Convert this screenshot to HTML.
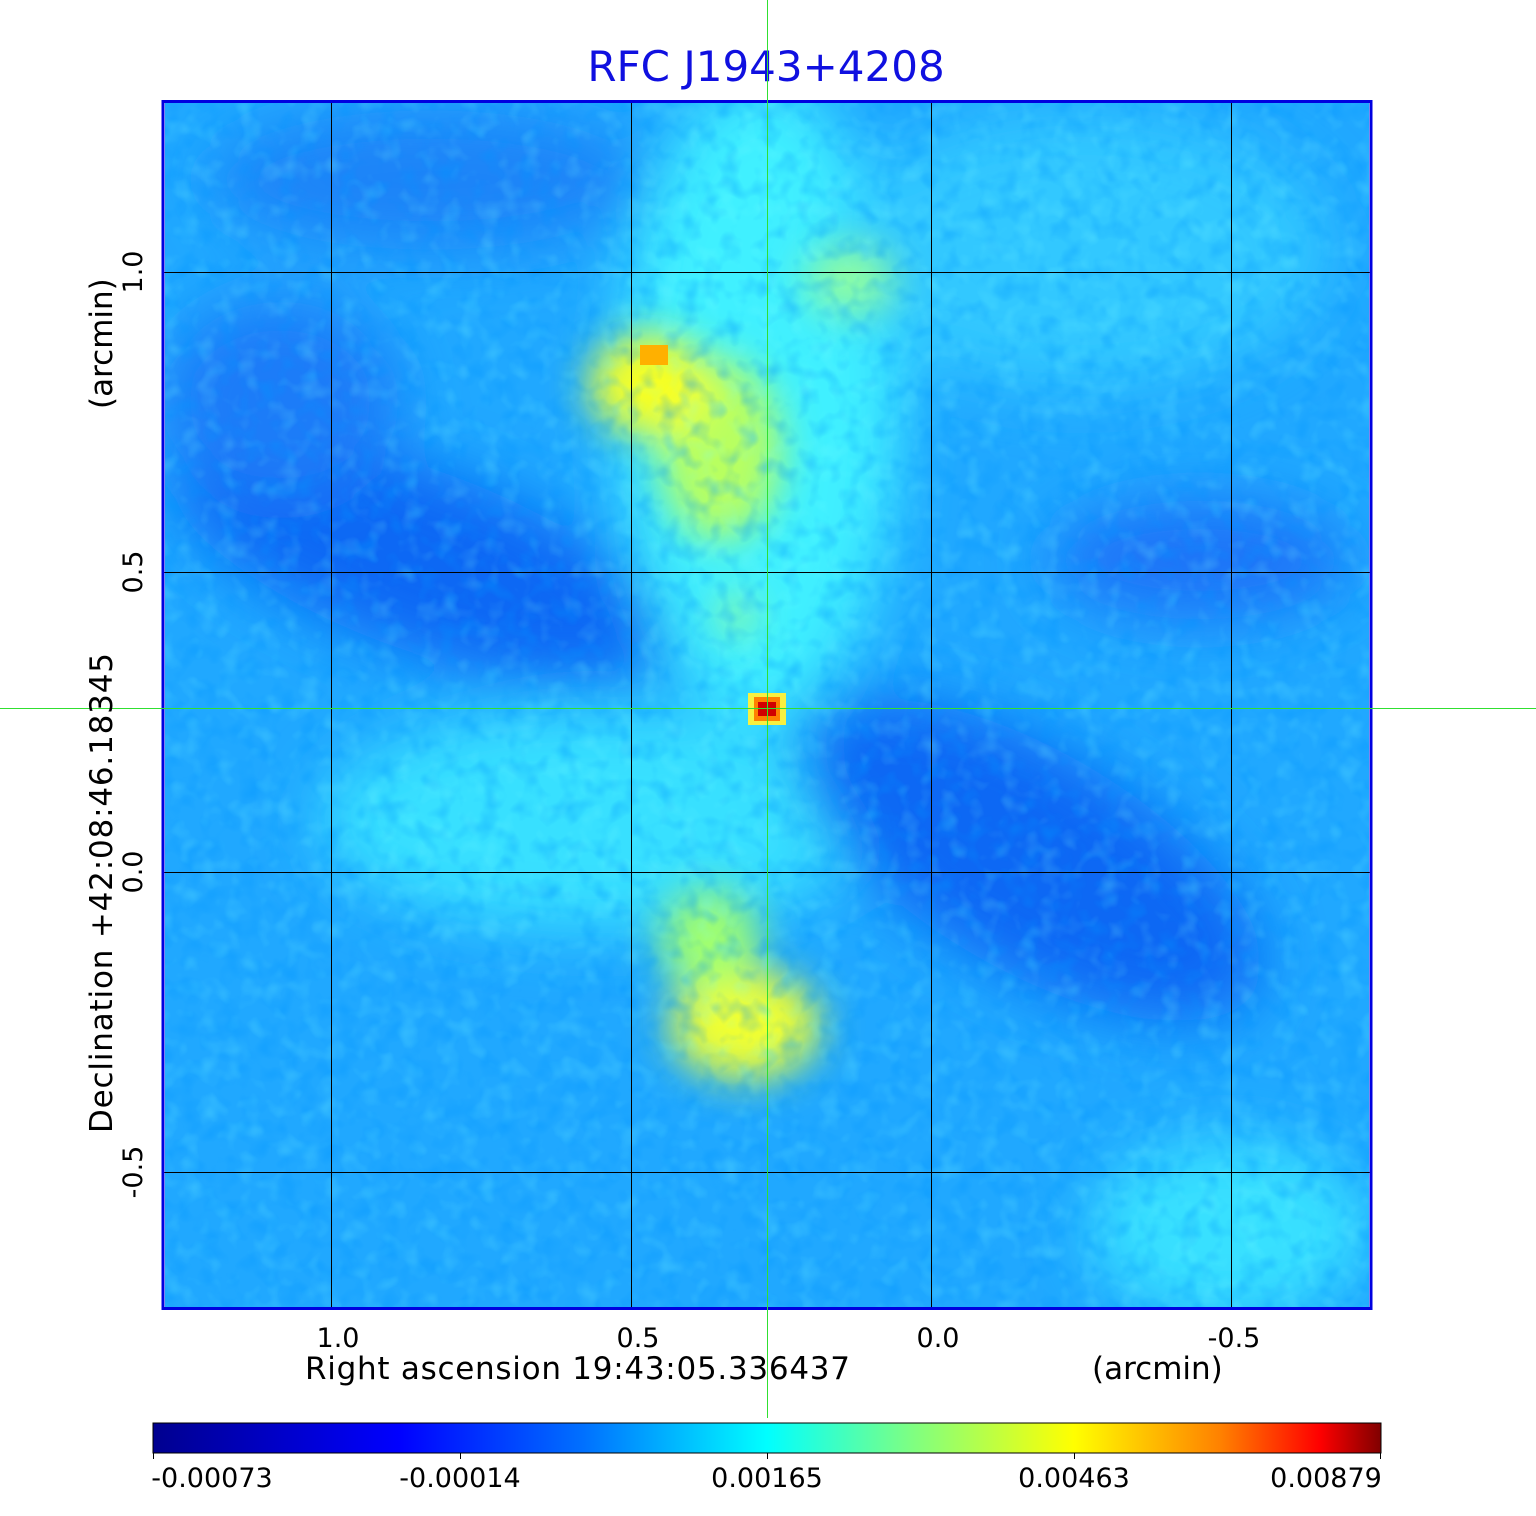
<!DOCTYPE html>
<html><head><style>
body{margin:0;background:#fff;}
svg text{font-family:"DejaVu Sans","Liberation Sans",sans-serif;}
</style></head><body>
<svg width="1536" height="1511" xmlns="http://www.w3.org/2000/svg">
<defs>
<filter id="b" x="-50%" y="-50%" width="200%" height="200%"><feGaussianBlur stdDeviation="30"/></filter>
<filter id="b2" x="-50%" y="-50%" width="200%" height="200%"><feGaussianBlur stdDeviation="20"/></filter>
<clipPath id="c"><rect x="165" y="103" width="1204" height="1204"/></clipPath>
<linearGradient id="jet" x1="0" x2="1">
<stop offset="0" stop-color="#00008f"/><stop offset="0.2" stop-color="#0000ff"/>
<stop offset="0.35" stop-color="#0070ff"/><stop offset="0.5" stop-color="#00ffff"/>
<stop offset="0.62" stop-color="#80ff80"/><stop offset="0.75" stop-color="#ffff00"/>
<stop offset="0.87" stop-color="#ff8000"/><stop offset="0.95" stop-color="#ff0000"/>
<stop offset="1" stop-color="#800000"/></linearGradient>
<filter id="n"><feTurbulence type="fractalNoise" baseFrequency="0.05" numOctaves="2" seed="3"/><feColorMatrix values="0 0 0 0 0  0 0 0 0 0.3  0 0 0 0 1  0 0 0 1.6 -0.75"/></filter>
<filter id="n2"><feTurbulence type="fractalNoise" baseFrequency="0.05" numOctaves="2" seed="9"/><feColorMatrix values="0 0 0 0 0.2  0 0 0 0 1  0 0 0 0 1  0 0 0 1.6 -0.8"/></filter>
</defs>
<text x="766" y="81" font-size="42" fill="#1010e0" text-anchor="middle">RFC J1943+4208</text>
<g clip-path="url(#c)">
<rect x="160" y="100" width="1215" height="1215" fill="#20a8ff"/>
<g filter="url(#b)">
<ellipse cx="760" cy="400" rx="140" ry="320" fill="#40f0ff"/>
<ellipse cx="600" cy="820" rx="280" ry="110" fill="#38e0ff"/>
<ellipse cx="1230" cy="1230" rx="140" ry="90" fill="#38e0ff"/>
<ellipse cx="1080" cy="250" rx="250" ry="140" fill="#30c8ff"/>
<ellipse cx="420" cy="560" rx="260" ry="90" fill="#1068f4" transform="rotate(20 420 560)"/>
<ellipse cx="280" cy="400" rx="120" ry="100" fill="#1a7cf8"/>
<ellipse cx="1030" cy="860" rx="260" ry="110" fill="#1068f4" transform="rotate(30 1030 860)"/>
<ellipse cx="1200" cy="560" rx="150" ry="60" fill="#1a74f8"/>
<ellipse cx="430" cy="180" rx="220" ry="70" fill="#1a84f8"/>
</g>
<g filter="url(#b2)">
<ellipse cx="720" cy="450" rx="60" ry="90" fill="#b8ff60"/>
<ellipse cx="650" cy="385" rx="60" ry="50" fill="#f8ff20"/>
<ellipse cx="745" cy="1025" rx="75" ry="55" fill="#f0ff30"/>
<ellipse cx="710" cy="940" rx="50" ry="50" fill="#a0ff70"/>
<ellipse cx="850" cy="280" rx="45" ry="35" fill="#90ffa0"/>
<ellipse cx="737" cy="615" rx="14" ry="18" fill="#c0ff60"/>
</g>
<rect x="160" y="100" width="1215" height="1215" filter="url(#n)" opacity="0.55"/>
<rect x="160" y="100" width="1215" height="1215" filter="url(#n2)" opacity="0.35"/>
<rect x="640" y="345" width="28" height="20" fill="#ffb000"/>
<rect x="748" y="693" width="38" height="32" fill="#f8f040"/>
<rect x="754" y="697" width="26" height="24" fill="#ff8000"/>
<rect x="758" y="702" width="18" height="14" fill="#d00000"/>
</g>
<g stroke="#000" stroke-width="1">
<line x1="331.5" y1="101" x2="331.5" y2="1309"/><line x1="631.5" y1="101" x2="631.5" y2="1309"/>
<line x1="931.5" y1="101" x2="931.5" y2="1309"/><line x1="1231.5" y1="101" x2="1231.5" y2="1309"/>
<line x1="163" y1="272.5" x2="1371" y2="272.5"/><line x1="163" y1="572.5" x2="1371" y2="572.5"/>
<line x1="163" y1="872.5" x2="1371" y2="872.5"/><line x1="163" y1="1172.5" x2="1371" y2="1172.5"/>
</g>
<rect x="163" y="101.5" width="1208" height="1207" fill="none" stroke="#0000e0" stroke-width="3"/>
<line x1="767.5" y1="0" x2="767.5" y2="1418" stroke="#30e030" stroke-width="1"/>
<line x1="0" y1="708.5" x2="1536" y2="708.5" stroke="#30e030" stroke-width="1"/>
<g font-size="27" fill="#000" text-anchor="middle">
<text x="338" y="1347">1.0</text><text x="638" y="1347">0.5</text>
<text x="938" y="1347">0.0</text><text x="1234" y="1347">-0.5</text>
<text transform="translate(142 272) rotate(-90)">1.0</text>
<text transform="translate(142 572) rotate(-90)">0.5</text>
<text transform="translate(142 872) rotate(-90)">0.0</text>
<text transform="translate(142 1172) rotate(-90)">-0.5</text>
</g>
<text x="305" y="1379" font-size="31" textLength="545" lengthAdjust="spacing">Right ascension  19:43:05.336437</text>
<text x="1092" y="1379" font-size="31">(arcmin)</text>
<text transform="translate(112 1133) rotate(-90)" font-size="31" textLength="480" lengthAdjust="spacing">Declination  +42:08:46.18345</text>
<text transform="translate(112 409) rotate(-90)" font-size="31">(arcmin)</text>
<rect x="153" y="1423" width="1228" height="30" fill="url(#jet)" stroke="#000" stroke-width="1"/>
<g stroke="#000"><line x1="153.5" y1="1453" x2="153.5" y2="1459"/><line x1="460.5" y1="1453" x2="460.5" y2="1459"/><line x1="767.5" y1="1453" x2="767.5" y2="1459"/><line x1="1074.5" y1="1453" x2="1074.5" y2="1459"/><line x1="1380.5" y1="1453" x2="1380.5" y2="1459"/></g>
<g font-size="27" fill="#000" text-anchor="middle">
<text x="212" y="1487">-0.00073</text><text x="460" y="1487">-0.00014</text>
<text x="767" y="1487">0.00165</text><text x="1074" y="1487">0.00463</text>
<text x="1326" y="1487">0.00879</text></g>
</svg>
</body></html>
